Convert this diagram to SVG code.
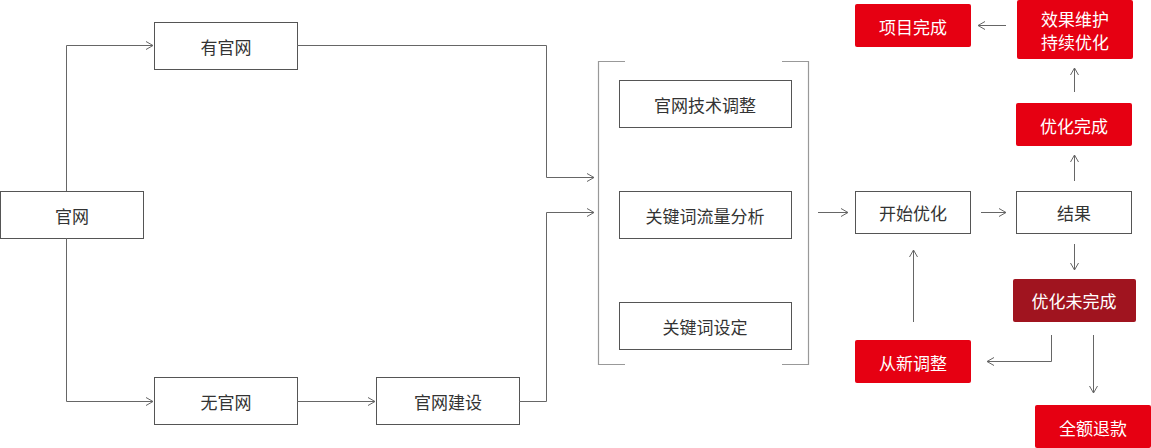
<svg xmlns="http://www.w3.org/2000/svg" width="1151" height="448" viewBox="0 0 1151 448">
<style>
.b{fill:#fff;stroke:#555;stroke-width:1}
.r{fill:#e60012}
.d{fill:#a0141f}
text{font-family:"Noto Sans CJK SC",sans-serif;font-size:17px;text-anchor:middle;dominant-baseline:central;fill:#333}
.w{fill:#fff}
.c{fill:none;stroke:#666;stroke-width:1}
.k{fill:none;stroke:#999;stroke-width:1.2}
</style>
<defs><marker id="a" markerWidth="10" markerHeight="10" refX="8" refY="5" orient="auto" markerUnits="userSpaceOnUse"><path d="M1,1 L8,5 L1,9" fill="none" stroke="#666"/></marker></defs>
<rect width="1151" height="448" fill="#fff"/>
<g id="n1"><rect class="b" x="0.5" y="191.5" width="143" height="47"/><text x="72" y="215">官网</text></g>
<g id="n2"><rect class="b" x="154.5" y="22.5" width="143" height="47"/><text x="226" y="46">有官网</text></g>
<g id="n3"><rect class="b" x="154.5" y="377.5" width="143" height="47"/><text x="226" y="401">无官网</text></g>
<g id="n4"><rect class="b" x="376.5" y="377.5" width="143" height="47"/><text x="448" y="401">官网建设</text></g>
<g id="grp"><path class="k" d="M625,61.5 H598.5 V364.5 H625 M782,61.5 H808.5 V364.5 H782"/></g>
<g id="n5"><rect class="b" x="619.5" y="80.5" width="172" height="47"/><text x="705" y="104">官网技术调整</text></g>
<g id="n6"><rect class="b" x="619.5" y="191.5" width="172" height="47"/><text x="705" y="215">关键词流量分析</text></g>
<g id="n7"><rect class="b" x="619.5" y="302.5" width="172" height="47"/><text x="705" y="326">关键词设定</text></g>
<g id="n8"><rect class="b" x="855.5" y="191.5" width="115" height="42"/><text x="913" y="212">开始优化</text></g>
<g id="n9"><rect class="b" x="1016.5" y="191.5" width="115" height="42"/><text x="1074" y="212">结果</text></g>
<g id="n10"><rect class="r" x="1016" y="103" width="116" height="43" rx="2"/><text class="w" x="1074" y="125">优化完成</text></g>
<g id="n11"><rect class="r" x="1017" y="0" width="116" height="59" rx="2"/><text class="w" x="1075" y="18">效果维护</text><text class="w" x="1075" y="41">持续优化</text></g>
<g id="n12"><rect class="r" x="855" y="4" width="116" height="43" rx="2"/><text class="w" x="913" y="26">项目完成</text></g>
<g id="n13"><rect class="d" x="1013" y="279" width="123" height="43" rx="2"/><text class="w" x="1074" y="300">优化未完成</text></g>
<g id="n14"><rect class="r" x="855" y="340" width="116" height="43" rx="2"/><text class="w" x="913" y="362">从新调整</text></g>
<g id="n15"><rect class="r" x="1035" y="405" width="116" height="43" rx="2"/><text class="w" x="1093" y="427">全额退款</text></g>
<g id="connectors">
<path class="c" marker-end="url(#a)" d="M66.5,191 V45.5 H153"/>
<path class="c" marker-end="url(#a)" d="M66.5,238 V401.5 H153"/>
<path class="c" marker-end="url(#a)" d="M297,45.5 H546.5 V177.5 H594"/>
<path class="c" marker-end="url(#a)" d="M297,401.5 H375"/>
<path class="c" marker-end="url(#a)" d="M519,401.5 H546.5 V212.5 H594"/>
<path class="c" marker-end="url(#a)" d="M818,212.5 H848"/>
<path class="c" marker-end="url(#a)" d="M981,212.5 H1006"/>
<path class="c" marker-end="url(#a)" d="M1074.5,181 V155"/>
<path class="c" marker-end="url(#a)" d="M1074.5,92 V68"/>
<path class="c" marker-end="url(#a)" d="M1006,25.5 H978"/>
<path class="c" marker-end="url(#a)" d="M1074.5,244 V270"/>
<path class="c" marker-end="url(#a)" d="M1051.5,335 V361.5 H987"/>
<path class="c" marker-end="url(#a)" d="M1093.5,335 V393"/>
<path class="c" marker-end="url(#a)" d="M913.5,322 V250"/>
</g>
</svg>
